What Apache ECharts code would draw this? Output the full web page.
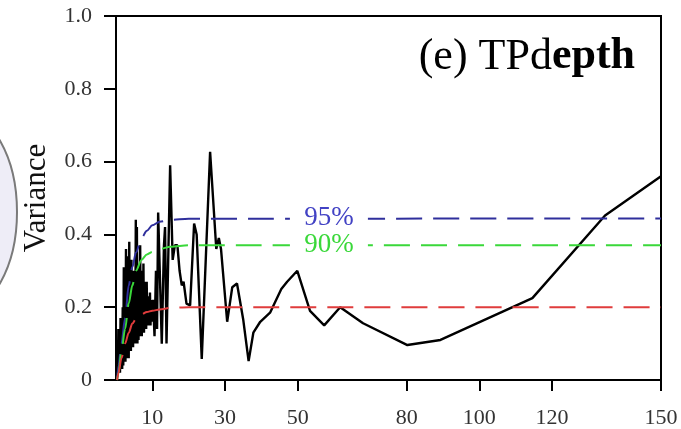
<!DOCTYPE html>
<html>
<head>
<meta charset="utf-8">
<script src="https://cdn.jsdelivr.net/npm/echarts@6/dist/echarts.min.js"></script>
<style>
  html, body { margin: 0; padding: 0; background: #fff; }
  #chart { width: 681px; height: 429px; }
</style>
</head>
<body>
<div id="chart"></div>
<script>
// period (x) and variance (y) of the black curve
const period = [
  0.20, 0.35, 0.50, 0.65, 0.80, 0.95, 1.10, 1.25, 1.40, 1.55, 1.70, 1.85,
  2.00, 2.15, 2.30, 2.45, 2.60, 2.75, 2.90, 3.05, 3.20, 3.35, 3.50, 3.65,
  3.80, 3.95, 4.10, 4.25, 4.40, 4.55, 4.70, 4.85, 5.00, 5.15, 5.30, 5.45,
  5.60, 5.75, 5.90, 6.05, 6.20, 6.35, 6.50, 6.65, 6.80, 6.95, 7.10, 7.25,
  7.40, 7.55, 7.70, 7.85, 8.00, 8.15, 8.30, 8.45, 8.60, 8.75, 8.90, 9.05,
  9.20, 9.35, 9.50, 9.65, 9.80, 9.95,
  10.2, 10.6, 11.0, 11.3, 11.6, 12.6, 13.2, 13.5, 13.9, 14.9, 15.6, 16.2,
  16.9, 17.5, 18.1, 18.6, 19.4, 20.4, 21.5, 22.2, 23.6, 25.9, 27.6, 28.3,
  28.9, 30.6, 32.0, 33.3, 35.0, 36.5, 37.8, 39.7, 42.4, 45.5, 47.1, 49.9,
  53.4, 57.3, 61.7, 68.0, 80.2, 89.3, 114.6, 134.6, 150
]
const variance = [
  0.00, 0.10, 0.01, 0.14, 0.02, 0.12, 0.02, 0.17, 0.03, 0.15, 0.03, 0.20,
  0.04, 0.31, 0.05, 0.22, 0.05, 0.36, 0.06, 0.34, 0.07, 0.26, 0.06, 0.38,
  0.08, 0.29, 0.08, 0.33, 0.09, 0.27, 0.09, 0.30, 0.10, 0.25, 0.10, 0.44,
  0.11, 0.42, 0.10, 0.31, 0.11, 0.28, 0.12, 0.37, 0.12, 0.30, 0.12, 0.26,
  0.13, 0.32, 0.13, 0.27, 0.14, 0.24, 0.14, 0.27, 0.15, 0.23, 0.15, 0.22,
  0.16, 0.24, 0.15, 0.22, 0.16, 0.21,
  0.22, 0.12, 0.30, 0.14, 0.46, 0.10, 0.37, 0.42, 0.10, 0.59, 0.33, 0.37,
  0.37, 0.30, 0.26, 0.27, 0.21, 0.205, 0.43, 0.40, 0.058, 0.627, 0.36, 0.39,
  0.36, 0.16, 0.255, 0.265, 0.167, 0.052, 0.13, 0.16, 0.185, 0.25, 0.27, 0.30,
  0.19, 0.15, 0.20, 0.156, 0.096, 0.11, 0.225, 0.452, 0.56
]

// significance curves
const sigPeriod = [0.3, 0.7, 1.5, 2.5, 3.5, 4.5, 5.5, 7, 8.5, 10, 12, 15, 20, 150]
const sig95 = [0.0, 0.04, 0.10, 0.17, 0.26, 0.31, 0.35, 0.39, 0.41, 0.425, 0.435, 0.44, 0.443, 0.444]
const sig90 = [0.0, 0.02, 0.08, 0.14, 0.21, 0.26, 0.30, 0.33, 0.345, 0.352, 0.36, 0.366, 0.37, 0.37]
const sigRed = [0.0, 0.02, 0.06, 0.10, 0.13, 0.155, 0.168, 0.18, 0.187, 0.19, 0.194, 0.198, 0.2, 0.2]

const xTicks = [10, 30, 50, 80, 100, 120, 150]
const labelPeriod = 58.6

const serif = '"Liberation Serif", "DejaVu Serif", serif'
const zip = (xs, ys) => xs.map((x, i) => [x, ys[i]])

const sigSeries = (name, values, color, withLabel) => {
  const s = {
    name: name,
    type: 'line',
    data: zip(sigPeriod, values),
    showSymbol: false,
    smooth: 0.3,
    smoothMonotone: 'x',
    lineStyle: { color: color, width: 2, type: [26, 11] },
    z: 3
  }
  if (withLabel) {
    s.markPoint = {
      symbol: 'rect',
      symbolSize: [78, 22],
      itemStyle: { color: '#fff', borderWidth: 0 },
      label: {
        show: true,
        position: 'inside',
        formatter: name,
        color: withLabel,
        fontFamily: serif,
        fontSize: 27
      },
      data: [{ coord: [labelPeriod, values[values.length - 1]] }]
    }
  }
  return s
}

const chart = echarts.init(document.getElementById('chart'))

const option = {
  animation: false,
  grid: {
    left: 116,
    right: 20,
    top: 16,
    bottom: 48,
    show: true,
    borderColor: '#000',
    borderWidth: 2
  },
  xAxis: {
    type: 'value',
    min: 0,
    max: 150,
    axisLine: { lineStyle: { color: '#000', width: 2 } },
    axisTick: {
      customValues: xTicks,
      length: 11,
      lineStyle: { color: '#000', width: 2 }
    },
    axisLabel: {
      customValues: xTicks,
      margin: 27,
      color: '#333',
      fontFamily: serif,
      fontSize: 22
    },
    splitLine: { show: false }
  },
  yAxis: {
    type: 'value',
    min: 0,
    max: 1,
    interval: 0.2,
    name: 'Variance',
    nameLocation: 'middle',
    nameGap: 64,
    nameTextStyle: { color: '#111', fontFamily: serif, fontSize: 31 },
    axisLine: { show: true, lineStyle: { color: '#000', width: 2 } },
    axisTick: { show: true, length: 12, lineStyle: { color: '#000', width: 2 } },
    axisLabel: {
      margin: 24,
      color: '#333',
      fontFamily: serif,
      fontSize: 22,
      formatter: v => (v === 0 ? '0' : v.toFixed(1))
    },
    splitLine: { show: false }
  },
  graphic: [
    {
      type: 'ellipse',
      shape: { cx: -40, cy: 212, rx: 57, ry: 100 },
      style: { fill: '#eeedf7', stroke: '#7a7a7a', lineWidth: 2 },
      z: 0
    },
    {
      type: 'text',
      right: 46,
      top: 35,
      style: {
        text: '{a|(e) TPd}{b|epth}',
        rich: {
          a: { fontFamily: serif, fontSize: 44, color: '#000' },
          b: { fontFamily: serif, fontSize: 44, fontWeight: 'bold', color: '#000' }
        }
      },
      z: 10
    }
  ],
  series: [
    {
      name: 'variance',
      type: 'line',
      data: zip(period, variance),
      showSymbol: false,
      lineStyle: { color: '#000', width: 2.4 },
      z: 2
    },
    sigSeries('95%', sig95, '#2f2f9c', '#4242c4'),
    sigSeries('90%', sig90, '#3ad83a', '#3ad83a'),
    sigSeries('ref', sigRed, '#e03c3c', null)
  ]
}

chart.setOption(option)
</script>
</body>
</html>
